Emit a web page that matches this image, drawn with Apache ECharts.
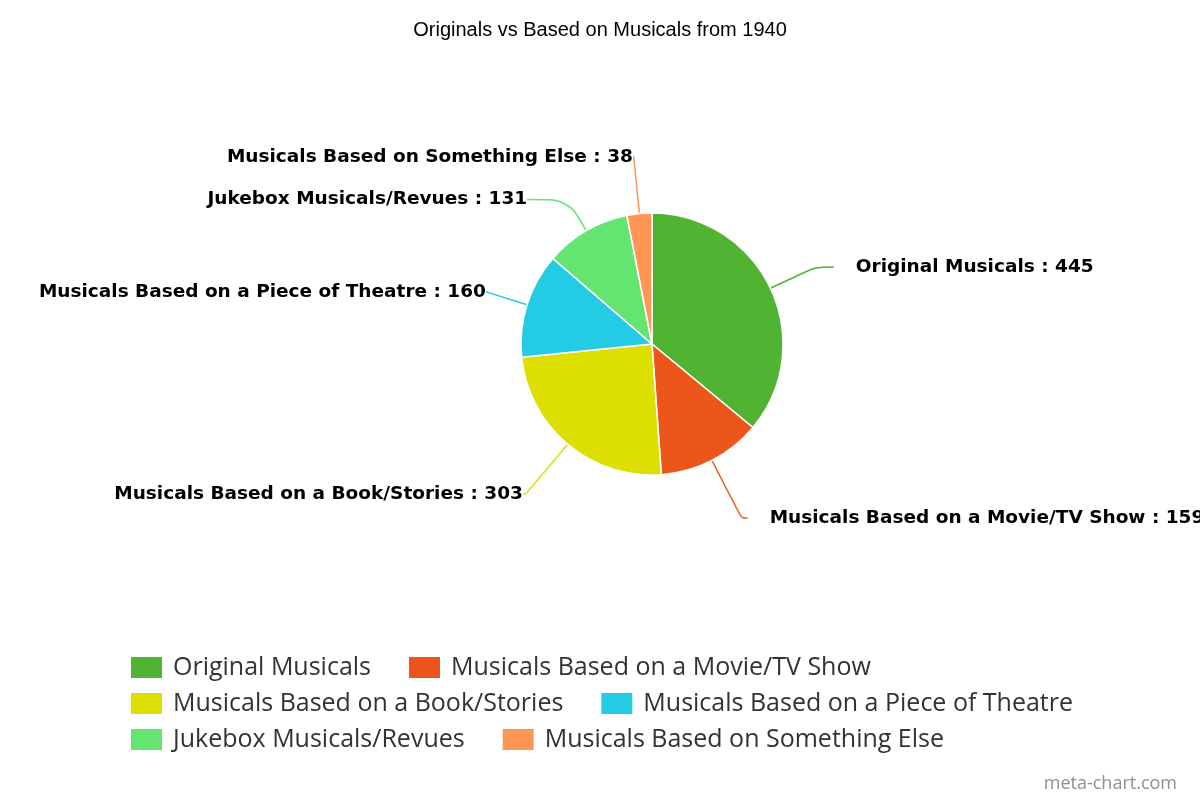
<!DOCTYPE html>
<html lang="en">
<head>
    <meta charset="UTF-8">
    <title>Originals vs Based on Musicals</title>
    <script src="https://cdn.jsdelivr.net/npm/echarts@6/dist/echarts.min.js"></script>
    <style>
        html, body { margin: 0; padding: 0; background: #fff; }
        #chart { width: 1200px; height: 800px; }
    </style>
</head>
<body>
<div id="chart"></div>
<script type="text/javascript">
    // 数据
    var categories = [
        'Original Musicals',
        'Musicals Based on a Movie/TV Show',
        'Musicals Based on a Book/Stories',
        'Musicals Based on a Piece of Theatre',
        'Jukebox Musicals/Revues',
        'Musicals Based on Something Else'
    ];
    var counts = [445, 159, 303, 160, 131, 38];
    var colors = ['#50B432', '#ED561B', '#DDDF00', '#24CBE5', '#64E572', '#FF9655'];

    // 每个扇区引导线的长度和文字间距（仅样式）
    var lineLen1 = [50, 65, 65, 42, 36, 57];
    var lineLen2 = [18, 6, 3, 1, 41, 1];
    var labelGap = [22, 22, 0, 0, 0, 0];

    var pieData = categories.map(function (name, i) {
        return {
            name: name,
            value: counts[i],
            label: { distanceToLabelLine: labelGap[i] },
            labelLine: { length: lineLen1[i], length2: lineLen2[i] }
        };
    });

    // 图例分三行，每行两个
    function legendRow(items, top) {
        return {
            left: 124,
            top: top,
            itemWidth: 33,
            itemHeight: 23,
            itemGap: 36,
            icon: 'rect',
            textStyle: {
                fontFamily: 'Open Sans',
                fontSize: 25,
                color: '#333',
                padding: [0, 0, 0, 5]
            },
            data: items
        };
    }

    var chart = echarts.init(document.getElementById('chart'));
    var option = {
        color: colors,
        title: [{
            text: 'Originals vs Based on Musicals from 1940',
            left: 'center',
            top: 15,
            textStyle: {
                fontFamily: 'Liberation Sans',
                fontSize: 20,
                fontWeight: 'normal',
                color: '#000'
            }
        }, {
            text: 'meta-chart.com',
            right: 18,
            top: 770,
            textStyle: {
                fontFamily: 'Open Sans',
                fontSize: 18,
                fontWeight: 'normal',
                color: '#909090'
            }
        }],
        legend: [
            legendRow(categories.slice(0, 2), 650),
            legendRow(categories.slice(2, 4), 686),
            legendRow(categories.slice(4, 6), 722)
        ],
        series: [{
            type: 'pie',
            center: [652, 344],
            radius: 131,
            startAngle: 90,
            clockwise: true,
            avoidLabelOverlap: false,
            data: pieData,
            itemStyle: {
                borderColor: '#fff',
                borderWidth: 1.5
            },
            label: {
                formatter: '{b} : {c}',
                fontFamily: 'DejaVu Sans',
                fontWeight: 'bold',
                fontSize: 18.5,
                color: '#000',
                overflow: 'none'
            },
            labelLine: {
                smooth: true,
                lineStyle: { width: 1.5 }
            },
            emphasis: { scale: false }
        }]
    };
    chart.setOption(option);
</script>
</body>
</html>
